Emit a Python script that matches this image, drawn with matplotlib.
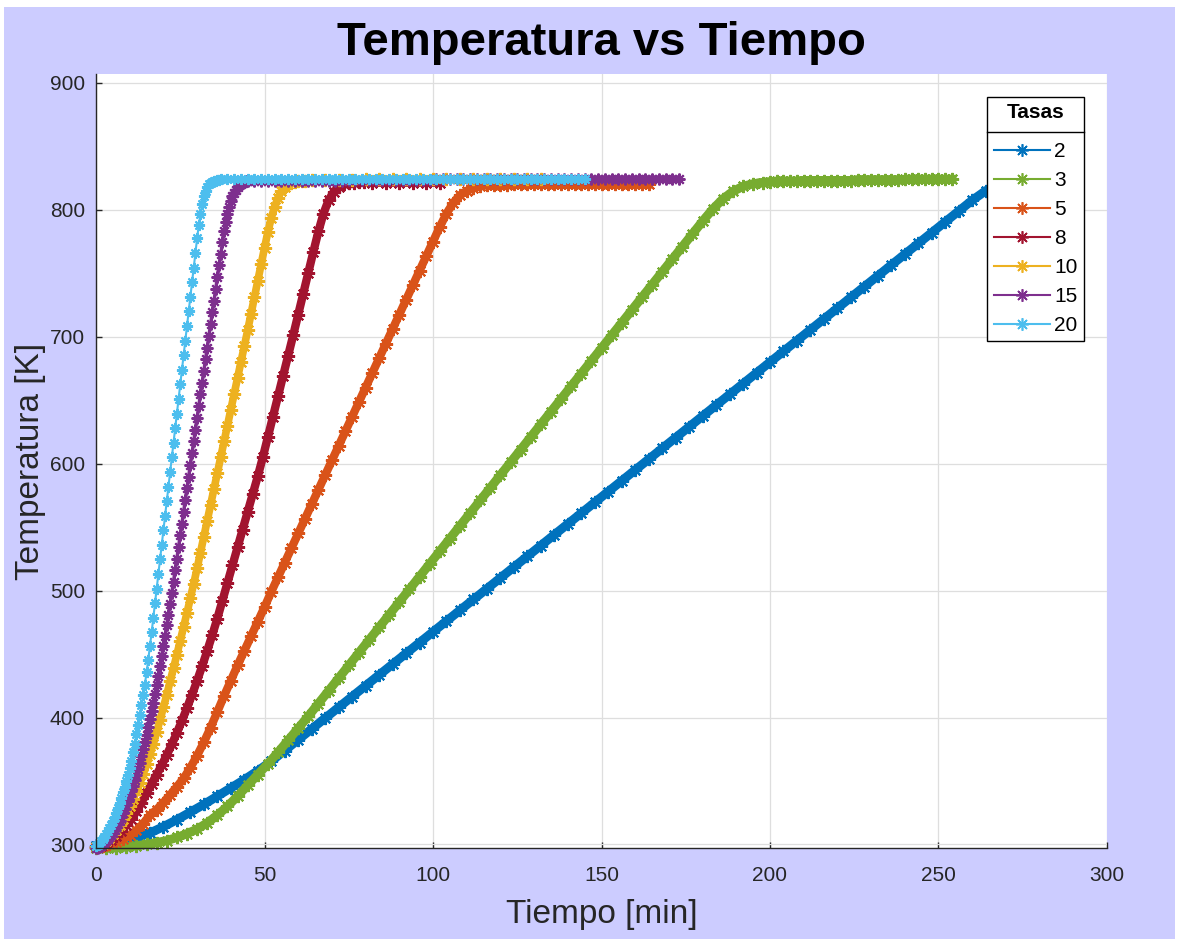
import numpy as np
import matplotlib
matplotlib.use("Agg")
import matplotlib.pyplot as plt
from matplotlib.lines import Line2D
from matplotlib.patches import Rectangle

plt.rcParams['font.family'] = ['Liberation Sans', 'DejaVu Sans']

# heating rates (legend labels) and MATLAB default colours
rates = ['2', '3', '5', '8', '10', '15', '20']
colors = ['#0072BD', '#77AC30', '#D95319', '#A2142F', '#EDB120', '#7E2F8E', '#4DBEEE']

# each curve = ramp part (from t=0, fixed step) + plateau part (own start/step)
# values, temperatures in K, times in min
ramp_step = [4, 3, 2, 1.5, 1, 0.5, 0.5]
flat_start = [272, 198, 118, 82, 64, 47, 39]
flat_step = [4, 2, 2, 4, 4, 2, 2]

T2_ramp = [299, 300, 302, 305, 309, 314, 319.5, 325.5, 331.5, 338,
           344.5, 351, 358, 365.5, 374, 382.5, 391, 399.5, 408, 416.5,
           425, 433.5, 442, 450.5, 459, 467.5, 476, 484.5, 493, 501.5,
           510, 518.5, 527, 535.5, 544, 552.5, 561, 569.5, 578, 586.5,
           595, 603.5, 612, 620.5, 629, 637.5, 646, 654.5, 663, 671.5,
           680, 688.5, 697, 705.5, 714, 722.5, 731, 739.5, 748, 756.5,
           765, 773.5, 782, 790.5, 799, 807.5, 815, 820.5]
T2_flat = [822.5, 823, 823, 823, 823]

T3_ramp = [297, 297, 297.5, 298, 299, 300, 301.5, 303, 305.5, 308.5,
           312, 317, 323, 330, 338, 346.5, 355, 363.5, 372.5, 382,
           391.5, 401, 411, 421, 431, 441, 451, 461, 471, 481,
           491, 501, 511, 521, 531, 541, 551, 561, 571, 581,
           591, 601, 611, 621, 631, 641, 651, 661, 671, 681,
           691, 701, 711, 721, 731, 741, 751, 761, 771, 781,
           791, 800.5, 808.5, 814.5, 818.5, 820.5]
T3_flat = [821.5, 822, 822.5, 822.5, 822.5, 822.5, 823, 823, 823, 823,
           823, 823, 823, 823, 823.5, 823.5, 823.5, 823.5, 823.5, 823.5,
           823.5, 824, 824, 824, 824, 824, 824, 824, 824]

T5_ramp = [298, 298.5, 300, 302, 304.5, 307.5, 311, 316.5, 323, 327.5,
           333, 339, 345.5, 352, 360.5, 370, 380.5, 392, 404.5, 417,
           429, 441, 452.5, 464, 475.5, 487, 499, 510.5, 522, 533.5,
           545, 556.5, 568, 579.5, 591, 602.5, 614, 625.5, 637, 648.5,
           660, 671.5, 683, 694.5, 706, 717.5, 729, 740.5, 752, 763.5,
           775, 786.5, 797, 805.5, 811.5, 815, 817, 818.5, 819.5]
T5_flat = [819.5, 819.5, 819.5, 820, 820, 820, 820, 820, 820, 820,
           820, 820, 820, 820, 820, 820, 820, 820, 820, 820,
           820, 820, 820, 820]

T8_ramp = [298, 299, 301, 303.5, 306.5, 310.5, 315, 320, 326, 333,
           340.5, 348, 355, 362.5, 370.5, 379, 388, 397.5, 407.5, 418,
           429, 440.5, 452.5, 465, 478, 492, 506, 520, 534, 548,
           562, 576, 590, 605, 621, 637, 653, 669, 685, 701,
           717.5, 734, 750.5, 767, 783, 797, 807.5, 814, 818, 820,
           821, 821.5, 822, 822]
T8_flat = [821.5, 821.5, 821.5, 821.5, 821.5, 821.5]

T10_ramp = [298, 299, 300.5, 302.5, 305, 308, 311.5, 315.5, 320, 325,
            330.5, 336, 342, 348.5, 355.5, 363, 371, 379.5, 388.5, 398,
            408, 418, 428.5, 439, 449.5, 460.5, 471.5, 482.5, 494, 505.5,
            517.5, 530, 542.5, 555, 567.5, 580, 592.5, 605, 617.5, 630,
            642.5, 655, 667.5, 680, 692.5, 705, 718, 731, 744, 757,
            770, 782.5, 793.5, 802.5, 809.5, 814.5, 818, 820, 821.5, 822,
            822.5, 822.5, 823]
T10_flat = [823.5, 823.5, 823.5, 823.5, 824, 824, 824, 824, 824, 824,
            824, 824, 824.5, 824.5, 824.5, 824.5, 824.5, 824.5]

T15_ramp = [297, 297.5, 298, 299, 300, 301.2, 302.5, 304, 305.5, 307.2,
            309, 311.2, 313.5, 316, 318.5, 321.5, 324.5, 327.8, 331, 334.5,
            338, 342, 346, 350.5, 355, 359.8, 364.5, 369.8, 375, 380.8,
            386.5, 392.5, 398.5, 405, 411.5, 418.5, 425.5, 433, 440.5, 448.2,
            456, 464.2, 472.5, 481, 489.5, 498.2, 507, 516, 525, 534.2,
            543.5, 552.8, 562, 571.2, 580.5, 589.8, 599, 608.2, 617.5, 626.8,
            636, 645.2, 654.5, 663.8, 673, 682.2, 691.5, 700.8, 710, 719.2,
            728.5, 737.8, 747, 756.2, 765.5, 774.5, 783, 790.5, 797, 802.5,
            807, 810.5, 813.5, 816, 818, 819.5, 820.5, 821.5, 822, 822.5,
            823]
T15_flat = [822.5, 822.5, 822.5, 822.5, 823, 823, 823, 823, 823, 823,
            823, 823, 823, 823, 823.5, 823.5, 823.5, 823.5, 823.5, 823.5,
            823.5, 823.5, 823.5, 823.5, 823.5, 823.5, 823.5, 824, 824, 824,
            824, 824, 824, 824, 824, 824, 824.5, 824.5, 824.5, 824.5,
            824.5, 824.5, 824.5, 824.5, 824.5, 824.5, 824.5, 824.5, 824.5, 824.5,
            824.5, 824.5, 824.5, 824.5, 824.5, 824.5, 824.5, 824.5, 824.5, 824.5,
            824.5, 824.5, 824.5, 824.5]

T20_ramp = [299, 299.5, 301, 302.5, 304, 306, 308, 310.5, 313, 315.5,
            318.5, 321.5, 325, 328.5, 332.5, 336.5, 341, 345.5, 350, 355,
            360, 366, 372.5, 379.5, 387, 394.5, 402, 409.5, 417.5, 426,
            435.5, 445.5, 456, 467, 478.5, 490, 501.5, 513, 524.5, 536,
            547.5, 559, 570.5, 582, 593.5, 605, 616.5, 628, 639.5, 651,
            662.5, 674, 685.5, 697, 708.5, 720, 731.5, 743, 754.5, 766,
            777.5, 788, 797, 804.5, 810.5, 815, 818, 820, 821.2, 822,
            822.6, 823, 823.4, 823.7, 824]
T20_flat = [824, 824, 824, 824, 824, 824, 824, 824, 824, 824,
            824, 824, 824, 824, 824, 824, 824, 824, 824, 824,
            824, 824, 824, 824, 824, 824, 824, 824, 824, 824,
            824, 824, 824, 824, 824, 824, 824, 824, 824, 824,
            824, 824, 824, 824, 824, 824, 824, 824, 824, 824,
            824, 824, 824, 824]

ramps = [T2_ramp, T3_ramp, T5_ramp, T8_ramp, T10_ramp, T15_ramp, T20_ramp]
flats = [T2_flat, T3_flat, T5_flat, T8_flat, T10_flat, T15_flat, T20_flat]

# slow curves look like a solid band of markers in the original
line_w = [6.5, 6.5, 6, 6, 5.5, 2.5, 1.5]
mark_s = [9.5, 9.5, 9.5, 9.5, 9.5, 8.5, 8]

W, H = 1179, 943
fig = plt.figure(figsize=(W / 100, H / 100), dpi=100)
fig.patch.set_facecolor('white')
fig.patches.append(Rectangle((4 / W, 4 / H), 1171 / W, 932 / H, transform=fig.transFigure,
                             facecolor='#CCCCFF', edgecolor='none', zorder=-10))

ax = fig.add_axes([96 / W, 1 - 848 / H, (1107 - 96) / W, (848 - 74) / H])
ax.set_facecolor('white')

star = (8, 2, 0)
for i in range(len(rates)):
    t_r = np.arange(len(ramps[i])) * ramp_step[i]
    t_f = flat_start[i] + np.arange(len(flats[i])) * flat_step[i]
    t = np.concatenate([t_r, t_f])
    T = np.concatenate([ramps[i], flats[i]])
    ax.plot(t, T, color=colors[i], lw=line_w[i], marker=star, ms=mark_s[i], mew=1.5,
            clip_on=False, solid_joinstyle='round')
    # plateau markers merge into a solid band in the original
    n0 = len(ramps[i]) - 1
    ax.plot(t[n0:], T[n0:], color=colors[i], lw=max(line_w[i], 5),
            solid_capstyle='butt', clip_on=False)

ax.set_xlim(0, 300)
ax.set_ylim(297.2, 907)
ax.set_xticks(np.arange(0, 301, 50))
ax.set_yticks(np.arange(300, 901, 100))
ax.grid(True, color='#DEDEDE', lw=0.9)
ax.set_axisbelow(True)
for s in ['top', 'right']:
    ax.spines[s].set_visible(False)
for s in ['left', 'bottom']:
    ax.spines[s].set_color('#262626')
    ax.spines[s].set_linewidth(1.0)
ax.tick_params(direction='in', length=4, width=1, color='#262626',
               labelcolor='#262626', labelsize=15)
ax.tick_params(axis='x', pad=13)
ax.tick_params(axis='y', pad=8)

ax.set_xlabel('Tiempo [min]', fontsize=24, color='#262626', labelpad=10)
ax.set_ylabel('Temperatura [K]', fontsize=24, color='#262626', labelpad=2.5)
ax.set_title('Temperatura vs Tiempo', fontsize=34, fontweight='bold', pad=13.5)

handles = [Line2D([], [], color=c, lw=1.5, marker=star, ms=9, mew=1.2) for c in colors]
leg = ax.legend(handles, rates, title='Tasas', loc='upper right',
                bbox_to_anchor=(0.977, 0.970), borderaxespad=0, fontsize=15,
                title_fontsize=15, fancybox=False, framealpha=1, edgecolor='black',
                handlelength=2.7, handletextpad=0.2, labelspacing=0.48,
                borderpad=0.3)
leg.get_title().set_fontweight('bold')
leg.get_frame().set_linewidth(1.0)
# more room between the title and the entries (header box in the original)
leg._legend_box.sep = 0.48 * 15 + 7

# separator line under the legend title
fig.canvas.draw()
r = fig.canvas.get_renderer()
fb = leg.get_frame().get_window_extent(r)
tb = leg.get_title().get_window_extent(r)
e0 = leg.get_texts()[0].get_window_extent(r)
y_sep = (tb.y0 + e0.y1) / 2
fig.add_artist(Line2D([fb.x0 / W, fb.x1 / W], [y_sep / H, y_sep / H],
                      transform=fig.transFigure, color='black', lw=1.0, zorder=10))

fig.savefig('out.png', dpi=100)
